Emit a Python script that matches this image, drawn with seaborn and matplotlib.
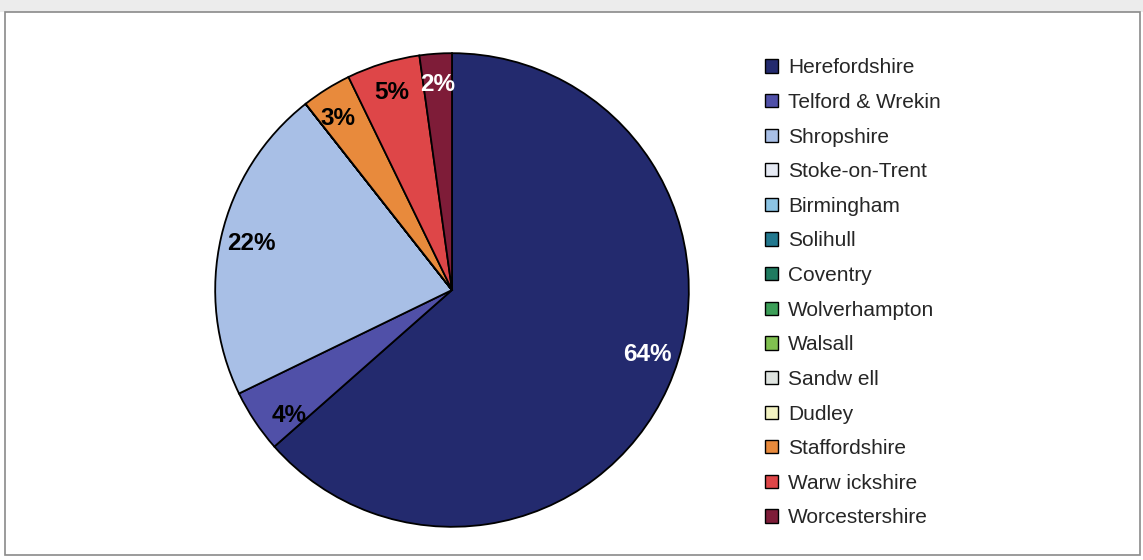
import numpy as np
import matplotlib.pyplot as plt
import seaborn as sns
from matplotlib.patches import Patch, Rectangle

# data
areas = ['Herefordshire', 'Telford & Wrekin', 'Shropshire', 'Stoke-on-Trent',
         'Birmingham', 'Solihull', 'Coventry', 'Wolverhampton', 'Walsall',
         'Sandw ell', 'Dudley', 'Staffordshire', 'Warw ickshire', 'Worcestershire']
shares = [63.5, 4.3, 21.6, 0, 0, 0, 0, 0, 0, 0, 0, 3.4, 5.0, 2.2]
colours = ['#232a6e', '#5050a8', '#a8bfe6', '#e6eaf4', '#8cc4e4', '#22788e',
           '#1f7b60', '#3c9e58', '#80c050', '#dfe4e0', '#f2f2c2', '#e88a3c',
           '#de4648', '#7e1c38']
white_labels = ['Herefordshire', 'Worcestershire']

sns.set_style('white')
plt.rcParams['font.family'] = ['Liberation Sans', 'DejaVu Sans']

W, H = 1143, 560
fig = plt.figure(figsize=(W / 100, H / 100), dpi=100)

# chart frame like the scanned original
fig.patches.append(Rectangle((0, 1 - 12 / H), 1, 12 / H, transform=fig.transFigure,
                             facecolor='#ececec', edgecolor='none'))
fig.patches.append(Rectangle((5 / W, 5 / H), 1135 / W, (H - 17) / H,
                             transform=fig.transFigure, facecolor='none',
                             edgecolor='#8a8a8a', lw=1.2))

cx, cy, r = 452, 290, 238
ax = fig.add_axes([(cx - r) / W, (H - cy - r) / H, 2 * r / W, 2 * r / H])


def pct_label(p):
    return f'{p:.0f}%' if p > 0.5 else ''


wedges, texts, autotexts = ax.pie(
    shares, colors=colours, startangle=90, counterclock=False,
    autopct=pct_label, pctdistance=0.87,
    wedgeprops=dict(edgecolor='black', linewidth=1.3),
    textprops=dict(fontsize=17.5, fontweight='bold'))

# excel's "best fit" puts some labels a bit off the middle of their slice
label_shift = {'Herefordshire': 6, 'Telford & Wrekin': 4, 'Staffordshire': 1.5}
for name, w, t in zip(areas, wedges, autotexts):
    t.set_color('white' if name in white_labels else 'black')
    if name in label_shift:
        ang = np.deg2rad((w.theta1 + w.theta2) / 2 + label_shift[name])
        t.set_position((0.87 * np.cos(ang), 0.87 * np.sin(ang)))

ax.set_xlim(-1.005, 1.005)
ax.set_ylim(-1.005, 1.005)
ax.set_aspect('equal')
ax.axis('off')

handles = [Patch(facecolor=c, edgecolor='black', lw=1) for c in colours]
fig.legend(handles, areas, loc='upper left', bbox_to_anchor=(757 / W, 1 - 50 / H),
           frameon=False, fontsize=15, handlelength=0.6, handleheight=0.6,
           handletextpad=0.5, labelspacing=0.75, borderaxespad=0)

fig.savefig('out.png', dpi=100)
